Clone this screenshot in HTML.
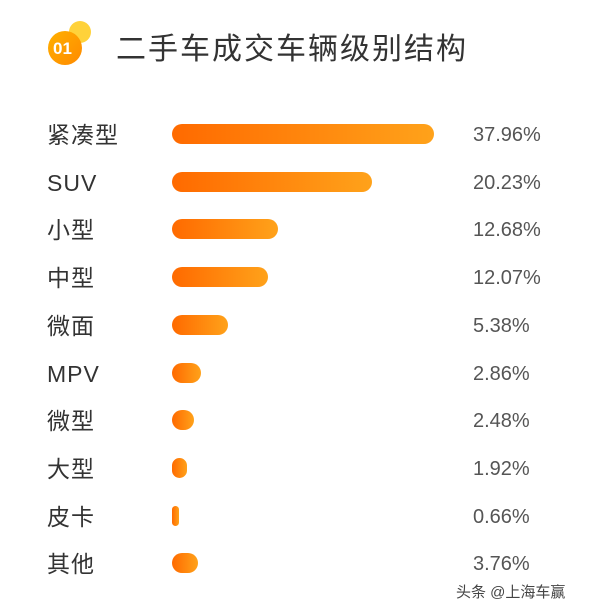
<!DOCTYPE html>
<html><head><meta charset="utf-8"><style>
body{margin:0;width:600px;height:612px;background:#fff;position:relative;overflow:hidden;font-family:"Liberation Sans","Noto Sans CJK SC",sans-serif}
.t{position:absolute;white-space:nowrap;height:30px;line-height:30px}
.l{left:47px;font-size:23px;color:#333;letter-spacing:1px}
.p{left:473px;font-size:20px;color:#555}
.b{position:absolute;left:172px;height:20px;border-radius:10px;background:linear-gradient(90deg,#ff6a00,#ffa21a)}
</style></head><body>
<div style="position:absolute;left:69px;top:21px;width:22px;height:22px;border-radius:50%;background:#ffd23a"></div>
<div style="position:absolute;left:48px;top:31px;width:34px;height:34px;border-radius:50%;background:linear-gradient(135deg,#ffb000,#ff8a00)"></div>
<div class="t" style="left:53px;top:34px;font-size:17px;font-weight:bold;color:#fff">01</div>
<div class="t" style="left:116px;top:32px;height:36px;line-height:36px;font-size:30px;color:#333;letter-spacing:2px">二手车成交车辆级别结构</div>
<div class="t" style="left:456px;top:578px;font-size:15px;color:#444">头条 @上海车赢</div>
<div id="r"></div>
<script>
var d=[["紧凑型",434,"37.96%"],["SUV",372,"20.23%"],["小型",278,"12.68%"],["中型",268,"12.07%"],["微面",228,"5.38%"],["MPV",201,"2.86%"],["微型",194,"2.48%"],["大型",187,"1.92%"],["皮卡",179,"0.66%"],["其他",198,"3.76%"]];
var h="";d.forEach(function(r,i){var y=134+i*47.7;
h+='<div class="t l" style="top:'+(y-14)+'px">'+r[0]+'</div>';
h+='<div class="b" style="top:'+(y-10)+'px;width:'+(r[1]-172)+'px"></div>';
h+='<div class="t p" style="top:'+(y-14)+'px">'+r[2]+'</div>';});
document.getElementById("r").innerHTML=h;
</script>
</body></html>
